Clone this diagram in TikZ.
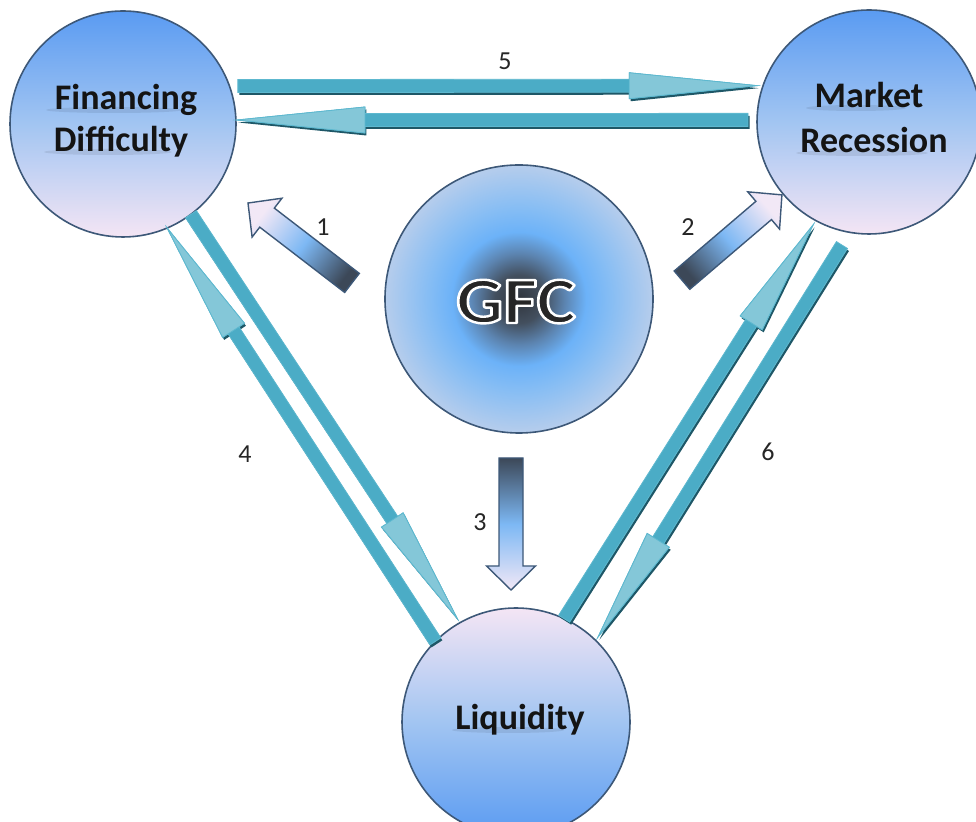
\documentclass[tikz,border=0pt]{standalone}
\usepackage{fontspec}
\setmainfont{Carlito}
\usetikzlibrary{calc}

\definecolor{teal1}{HTML}{4BACC6}
\definecolor{teallight}{HTML}{84C7D8}
\definecolor{tealedge}{HTML}{5DB8CF}
\definecolor{tealdark}{HTML}{1E5767}
\definecolor{ringblue}{HTML}{5A9BF2}
\definecolor{ringmid}{HTML}{A2C5F2}
\definecolor{ringpink}{HTML}{F4E5F4}
\definecolor{rim}{HTML}{3D5878}
\definecolor{gfcdark}{HTML}{30353D}
\definecolor{gfcgrey}{HTML}{434F5E}
\definecolor{gfcmid}{HTML}{5C84B0}
\definecolor{gfcblue}{HTML}{6CB2F8}
\definecolor{gfcsoft}{HTML}{86BDF4}
\definecolor{gfcedge}{HTML}{B6CDEC}
\definecolor{bkdark}{HTML}{3C4858}
\definecolor{bkblue}{HTML}{7DB8F4}
\definecolor{bklight}{HTML}{F2E8F6}
\definecolor{txtblack}{HTML}{141414}
\definecolor{gfcletter}{HTML}{262626}

% radial fill of the central bubble: dark core, blue ring, pale rim
\pgfdeclareradialshading{gfcshade}{\pgfpoint{0bp}{0bp}}{%
  color(0bp)=(gfcdark); color(4.5bp)=(gfcgrey); color(8.5bp)=(gfcmid);
  color(12.5bp)=(gfcblue); color(17bp)=(gfcsoft); color(25bp)=(gfcedge);
  color(50bp)=(gfcedge)}

% corner points of a block arrow running from tail #1 to tip #2
% #3 half shaft width, #4 half head width, #5 head length, #6 prefix
\newcommand\arrowcoords[6]{%
  \coordinate (#6b) at ($(#2)!#5!(#1)$);
  \coordinate (#6p1) at ($(#1)!#3!90:(#2)$);
  \coordinate (#6p2) at ($(#6b)!#3!90:(#2)$);
  \coordinate (#6p3) at ($(#6b)!#4!90:(#2)$);
  \coordinate (#6p4) at ($(#6b)!#4!-90:(#2)$);
  \coordinate (#6p5) at ($(#6b)!#3!-90:(#2)$);
  \coordinate (#6p6) at ($(#1)!#3!-90:(#2)$);
}

% teal link arrow with a dark drop shadow and a paler head
\newcommand\tealarrow[4]{%
  \arrowcoords{#1}{#2}{6.5pt}{13pt}{#3}{#4}
  \fill[tealdark, transform canvas={shift={(1.5pt,-2.5pt)}}]
    (#4p1) -- (#4p2) -- (#4p3) -- (#2) -- (#4p4) -- (#4p5) -- (#4p6) -- cycle;
  \filldraw[fill=teal1, draw=tealedge, line width=0.8pt]
    (#4p1) -- (#4p2) -- (#4p3) -- (#2) -- (#4p4) -- (#4p5) -- (#4p6) -- cycle;
  \filldraw[fill=teallight, draw=tealedge, line width=0.8pt]
    (#4p3) -- (#2) -- (#4p4) -- cycle;
}

% shaded block arrow leaving the central bubble
\newcommand\gradarrow[4]{%
  \arrowcoords{#1}{#2}{12pt}{24.5pt}{24pt}{#4}
  \path[draw=rim, line width=1.4pt, top color=bklight, bottom color=bkdark,
        middle color=bkblue, shading angle=#3]
    (#4p1) -- (#4p2) -- (#4p3) -- (#2) -- (#4p4) -- (#4p5) -- (#4p6) -- cycle;
}

% dark letters stroked with a white outline (text render mode 2)
\newcommand\haloword[1]{%
  {\color{gfcletter}\special{pdf:code 1 1 1 RG 2.4 w 1 j 2 Tr}#1\special{pdf:code 0 Tr}}}

\tikzset{
  bubble/.style={circle, draw=rim, line width=1.6pt, inner sep=0pt, outer sep=0pt},
  bluetop/.style={bubble, top color=ringblue, bottom color=ringpink, middle color=ringmid},
  bluebottom/.style={bubble, top color=ringpink, bottom color=ringblue, middle color=ringmid},
  lbl/.style={font=\fontsize{36}{36}\bfseries\selectfont, text=txtblack, inner sep=0pt, anchor=base},
  num/.style={font=\fontsize{26}{26}\selectfont, text=black!85, inner sep=0pt, anchor=base},
  gfcfont/.style={font=\fontsize{66}{66}\bfseries\selectfont, inner sep=0pt, anchor=base, xscale=1.12},
}

\begin{document}
\begin{tikzpicture}[x=1pt, y=1pt]
\fill[white] (0,0) rectangle (976,821);
\useasboundingbox (0,0) rectangle (976,821);

% bubbles
\node[bluetop, minimum size=226pt] (fin) at (123,697) {};
\node[bluetop, minimum size=224pt] (mkt) at (869,699) {};
\node[bluebottom, minimum size=228pt] (liq) at (516,99) {};
\node[bubble, shading=gfcshade, minimum size=268pt] (gfc) at (519,522) {};

% soft grey smudges under the captions
\foreach \px/\py/\w in {114/711/68, 108/669/64, 856/713/50, 862/668/66, 508/91/56}
  \fill[black, opacity=0.08] (\px,\py) ellipse ({\w pt} and 3pt);

% bubble captions
\node[lbl] (fin1) at (126,711) {Financing};
\node[lbl] (fin2) at (121,669) {Difficulty};
\node[lbl] (mkt1) at (869,713) {Market};
\node[lbl] (mkt2) at (874,668) {Recession};
\node[lbl] (liq1) at (520,91) {Liquidity};

% GFC title
\node[gfcfont] (gfct) at (516,498) {\haloword{GFC}};

% end points of the links between bubbles
\coordinate (a5t) at ($(fin.center)+(18.3:121)$);
\coordinate (a5h) at ($(mkt.center)+(162:117.6)$);
\coordinate (b5t) at ($(mkt.center)+(179:121)$);
\coordinate (b5h) at ($(fin.center)+(2:114)$);
\coordinate (a4t) at (fin.-53);
\coordinate (a4h) at ($(liq.center)+(119.6:119)$);
\coordinate (b4t) at (liq.135);
\coordinate (b4h) at (fin.-67);
\coordinate (a6t) at (liq.65.7);
\coordinate (a6h) at ($(mkt.center)+(241.5:117)$);
\coordinate (b6t) at ($(mkt.center)+(257.6:126)$);
\coordinate (b6h) at ($(liq.center)+(46:118)$);

\tealarrow{a5t}{a5h}{128pt}{ra}
\tealarrow{b5t}{b5h}{128pt}{rb}
\tealarrow{a4t}{a4h}{118pt}{rc}
\tealarrow{b4t}{b4h}{122pt}{rd}
\tealarrow{a6t}{a6h}{116pt}{re}
\tealarrow{b6t}{b6h}{114pt}{rf}

% arrows leaving GFC
\coordinate (g1t) at ($(gfc.center)+(174.5:167.8)$);
\coordinate (g1h) at ($(gfc.center)+(160.5:287.5)$);
\coordinate (g2t) at ($(gfc.center)+(6.6:164.1)$);
\coordinate (g2h) at ($(gfc.center)+(21.6:282.8)$);
\coordinate (g3t) at ($(gfc.south)+(-8,-25)$);
\coordinate (g3h) at ($(liq.north)+(-5,18)$);
\gradarrow{g1t}{g1h}{52.4}{ga}
\gradarrow{g2t}{g2h}{-49.6}{gb}
\gradarrow{g3t}{g3h}{180}{gc}

% link numbers
\node[num] (n1) at (323,585) {1};
\node[num] (n2) at (688,585) {2};
\node[num] (n3) at (480,290) {3};
\node[num] (n4) at (245,358) {4};
\node[num] (n5) at (505,751) {5};
\node[num] (n6) at (768,360) {6};
\end{tikzpicture}
\end{document}
